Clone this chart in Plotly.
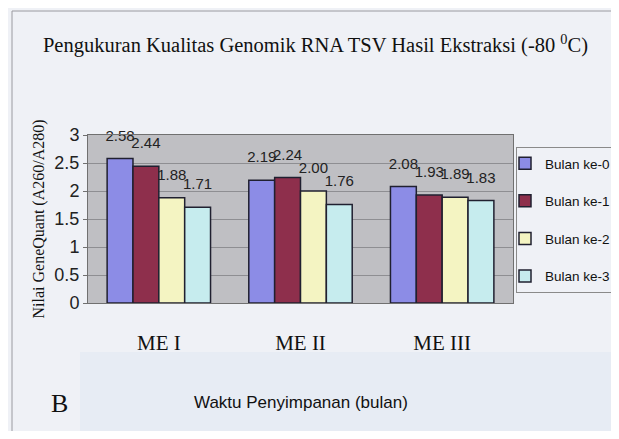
import plotly.graph_objects as go

categories = ["ME I", "ME II", "ME III"]
series_names = ["Bulan ke-0", "Bulan ke-1", "Bulan ke-2", "Bulan ke-3"]
bulan0 = [2.58, 2.19, 2.08]
bulan1 = [2.44, 2.24, 1.93]
bulan2 = [1.88, 2.00, 1.89]
bulan3 = [1.71, 1.76, 1.83]
y_ticks = [0, 0.5, 1, 1.5, 2, 2.5, 3]
y_tick_labels = ["0", "0.5", "1", "1.5", "2", "2.5", "3"]

values = [bulan0, bulan1, bulan2, bulan3]
colors = ["#8c8ce6", "#8e2f4c", "#f4f4c2", "#c6ecee"]

ARIAL = "Liberation Sans, Arial, sans-serif"
SERIF = "Liberation Serif, Times New Roman, serif"

fig = go.Figure()
for i, (name, vals) in enumerate(zip(series_names, values)):
    fig.add_trace(go.Bar(
        x=categories, y=vals, name=name,
        marker=dict(color=colors[i], line=dict(color="#202030", width=1.5)),
        text=[f"{v:.2f}" for v in vals],
        texttemplate="<span style='font-size:15px'>%{text}</span><br> ",
        textposition="outside",
        constraintext="none",
        cliponaxis=False,
        textfont=dict(family=ARIAL, size=10, color="#222222"),
        legendgroup=f"g{i}",
    ))

# Target positions are page pixels; the page body adds an 8px margin on every side,
# so the figure is 16px smaller than the window and shifted by 8px.
OFF = 8
WIN_W, WIN_H = 619, 439
W, H = WIN_W - 2 * OFF, WIN_H - 2 * OFF
L, R, T, B = 88, 513, 135, 303
pw, ph = R - L, B - T

def px(x):
    return (x - L) / pw

def py(y):
    return (B - y) / ph

fig.update_layout(
    width=W, height=H,
    margin=dict(l=L - OFF, r=W - (R - OFF), t=T - OFF, b=H - (B - OFF), autoexpand=False),
    barmode="group", bargap=0.27, bargroupgap=0,
    paper_bgcolor="#eff1f6", plot_bgcolor="#bfbfc3",
    showlegend=True,
    legend=dict(
        x=px(516), y=py(147), xanchor="left", yanchor="top",
        bgcolor="#eff1f6", bordercolor="#8a8a8a", borderwidth=1,
        font=dict(family=ARIAL, size=13.5, color="#111111"),
        tracegroupgap=17, itemwidth=30, indentation=-12,
    ),
    title=dict(
        text="Pengukuran Kualitas Genomik RNA TSV Hasil Ekstraksi (-80 <sup>0</sup>C)",
        x=(315.5 - OFF) / W, xanchor="center", y=1 - (45 - OFF) / H, yanchor="middle",
        font=dict(family=SERIF, size=20.5, color="#111111"),
    ),
    xaxis=dict(
        showgrid=False, showline=True, linecolor="#707070", mirror=True,
        ticks="", ticklabelstandoff=21,
        tickfont=dict(family=SERIF, size=21, color="#111111"),
    ),
    yaxis=dict(
        range=[0, 3], tickvals=y_ticks, ticktext=y_tick_labels,
        showgrid=True, gridcolor="#8e8e92", gridwidth=1,
        showline=True, linecolor="#707070", mirror=True,
        ticks="outside", ticklen=4, tickcolor="#707070",
        tickfont=dict(family=ARIAL, size=18, color="#222222"),
        title=dict(text="Nilai GeneQuant (A260/A280)", standoff=5,
                   font=dict(family=SERIF, size=16, color="#111111")),
        zeroline=False,
    ),
    shapes=[
        dict(type="rect", xref="paper", yref="paper",
             x0=px(80), x1=px(660), y0=py(480), y1=py(352),
             fillcolor="#e7ecf4", line=dict(width=0), layer="below"),
        dict(type="rect", xref="paper", yref="paper",
             x0=px(12), x1=px(660), y0=py(480), y1=py(11),
             line=dict(color="#9a9aa0", width=1), layer="below"),
    ],
    annotations=[
        dict(text="Waktu Penyimpanan (bulan)", xref="paper", yref="paper",
             x=px(301), y=py(402), xanchor="center", yanchor="middle", showarrow=False,
             font=dict(family=ARIAL, size=17, color="#111111")),
        dict(text="B", xref="paper", yref="paper",
             x=px(59), y=py(403), xanchor="center", yanchor="middle", showarrow=False,
             font=dict(family=SERIF, size=26, color="#111111")),
    ],
)

fig.write_html("out.html")
